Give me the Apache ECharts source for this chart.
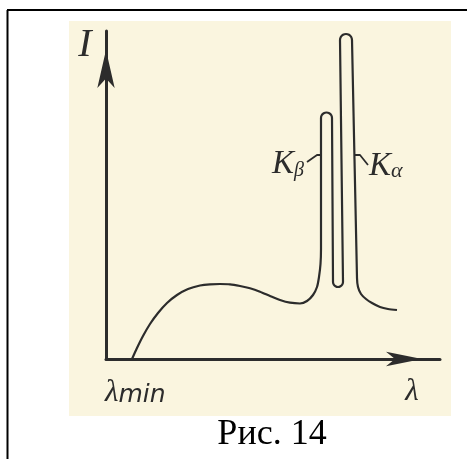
<!DOCTYPE html>
<html>
<head>
<meta charset="utf-8">
<script src="https://cdn.jsdelivr.net/npm/echarts@6/dist/echarts.min.js"></script>
<style>
html,body{margin:0;padding:0;background:#fff;}
#c{width:467px;height:459px;}
</style>
</head>
<body>
<div id="c"></div>
<script>
// Spectrum curve: x = wavelength (arbitrary units), y = intensity (arbitrary units)
const curveX = [26,31,37,44,52,61,71,82,94,104,114,124,134,144,154,164,174,184,194,201,207,211,213,214.5,215,
  215,215.7,217.75,220.5,223.25,225.3,226,
  227,227.7,229.5,232,234.5,236.3,237,
  234,234.8,237,240,243,245.2,246,
  251,252,255,260,266,274,282,291];
const curveY = [0,11,23,35,46,56,64,70,73.5,74.7,75,74.7,73,70.7,67.3,63,59,56.3,55.5,58,64,72,82,95,110,
  241,243.8,245.8,246.5,245.8,243.8,241,
  77,74.5,72.7,72,72.7,74.5,77,
  319,322,324.2,325,324.2,322,319,
  81,72,65,60,56,52,50,49];
// Leader lines for the line labels
const leaderBetaX = [201,211,215];
const leaderBetaY = [197,204,204];
const leaderAlphaX = [248,254,262];
const leaderAlphaY = [204,204,194];
const xMax = 334, yMax = 328;

function pairs(xs, ys){ return xs.map((x,i)=>[x, ys[i]]); }

const ink = '#2c2c2c';
const chart = echarts.init(document.getElementById('c'), null, {renderer:'canvas'});
chart.setOption({
  animation:false,
  backgroundColor:'#ffffff',
  grid:{left:106, top:31, width:334, height:328, containLabel:false},
  xAxis:{type:'value', min:0, max:xMax,
    axisLine:{show:true, onZero:false, symbol:['none','arrow'], symbolSize:[11,36], symbolOffset:[0,-18],
      lineStyle:{color:ink, width:3}},
    axisTick:{show:false}, axisLabel:{show:false}, splitLine:{show:false}},
  yAxis:{type:'value', min:0, max:yMax,
    axisLine:{show:true, onZero:false, symbol:['none','arrow'], symbolSize:[13,38], symbolOffset:[0,-19],
      lineStyle:{color:ink, width:3}},
    axisTick:{show:false}, axisLabel:{show:false}, splitLine:{show:false}},
  series:[
    {type:'line', data:pairs(curveX, curveY), showSymbol:false, smooth:0.25, clip:false,
     lineStyle:{color:ink, width:2.2}, z:5},
    {type:'line', data:pairs(leaderBetaX, leaderBetaY), showSymbol:false, clip:false,
     lineStyle:{color:ink, width:1.8}, z:5},
    {type:'line', data:pairs(leaderAlphaX, leaderAlphaY), showSymbol:false, clip:false,
     lineStyle:{color:ink, width:1.8}, z:5}
  ],
  graphic:[
    {type:'rect', z:-10, shape:{x:69, y:21, width:382, height:395}, style:{fill:'#faf5df'}},
    {type:'line', z:10, shape:{x1:7, y1:10, x2:467, y2:10}, style:{stroke:'#000', lineWidth:2}},
    {type:'line', z:10, shape:{x1:7.5, y1:10, x2:7.5, y2:459}, style:{stroke:'#000', lineWidth:2}},
    {type:'text', z:10, x:85, y:45, style:{text:'I', fontStyle:'italic', fontSize:40, fontFamily:'Liberation Serif', fill:ink, align:'center', verticalAlign:'middle'}},
    {type:'text', z:10, x:304, y:164, style:{text:'{k|K}{s|β}', align:'right', verticalAlign:'middle', fill:ink,
      rich:{k:{fontStyle:'italic', fontSize:33, fontFamily:'Liberation Serif', fill:ink}, s:{fontStyle:'italic', fontSize:20, fontFamily:'Liberation Serif', fill:ink, padding:[14,0,0,0]}}}},
    {type:'text', z:10, x:369, y:166, style:{text:'{k|K}{s|α}', align:'left', verticalAlign:'middle', fill:ink,
      rich:{k:{fontStyle:'italic', fontSize:33, fontFamily:'Liberation Serif', fill:ink}, s:{fontStyle:'italic', fontSize:22, fontFamily:'Liberation Serif', fill:ink, padding:[10,0,0,0]}}}},
    {type:'text', z:10, x:105, y:393, style:{text:'{l|λ}{m|min}', align:'left', verticalAlign:'middle', fill:ink,
      rich:{l:{fontStyle:'italic', fontSize:31, fontFamily:'Liberation Serif', fill:ink}, m:{fontStyle:'italic', fontSize:25, fontFamily:'DejaVu Sans', fill:ink, padding:[4,0,0,0]}}}},
    {type:'text', z:10, x:412, y:392, style:{text:'λ', fontStyle:'italic', fontSize:31, fontFamily:'Liberation Serif', fill:ink, align:'center', verticalAlign:'middle'}},
    {type:'text', z:10, x:272, y:435, style:{text:'Рис. 14', fontSize:36, fontFamily:'Liberation Serif', fill:'#000', align:'center', verticalAlign:'middle'}}
  ]
});
</script>
</body>
</html>
